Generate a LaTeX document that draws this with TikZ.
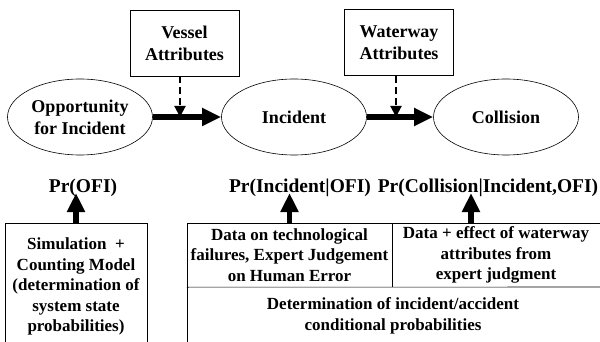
\documentclass[tikz,border=0pt]{standalone}
\usepackage{fontspec}
\setmainfont{Liberation Serif}
\usetikzlibrary{shapes.geometric,arrows.meta}
\begin{document}
\begin{tikzpicture}[x=1pt,y=-1pt,
  every node/.style={font=\bfseries},
  state/.style={draw,ellipse,line width=0.6pt,inner sep=0pt,
    minimum width=145pt,minimum height=76pt,align=center,
    font=\bfseries\fontsize{18}{22}\selectfont},
  attrbox/.style={draw,rectangle,line width=0.6pt,inner sep=0pt,
    minimum width=109pt,minimum height=66pt,align=center,
    font=\bfseries\fontsize{18}{22}\selectfont},
  prlabel/.style={inner sep=0pt,font=\bfseries\fontsize{19.5}{22}\selectfont},
  celltext/.style={inner sep=0pt,align=center,
    font=\bfseries\fontsize{17}{20.5}\selectfont},
  bigarrow/.style={line width=5.5pt,-{Triangle[length=19pt,width=17pt]}},
  dasharrow/.style={line width=2pt,dash pattern=on 7pt off 4pt,
    -{Triangle[length=11pt,width=11pt]}},
  frame/.style={line width=0.6pt}]
\useasboundingbox (0,0) rectangle (600,342);
\clip (0,0) rectangle (600,342);
\fill[white] (0,0) rectangle (600,342);

% event chain
\node[state] (ofi) at (80,117) {Opportunity\\for Incident};
\node[state] (inc) at (294,117) {Incident};
\node[state] (col) at (506,117) {Collision};
\draw[bigarrow] (ofi) -- (inc);
\draw[bigarrow] (inc) -- (col);

% attribute influences
\node[attrbox] (vessel) at (184.5,43) {Vessel\\Attributes};
\node[attrbox] (waterway) at (399,42.5) {Waterway\\Attributes};
\coordinate (vtip) at (180,117);
\coordinate (wtip) at (396,117);
\draw[dasharrow] (vessel.south -| vtip) -- (vtip);
\draw[dasharrow] (waterway.south -| wtip) -- (wtip);

% probability labels
\node[prlabel] (pofi) at (83,188) {Pr(OFI)};
\node[prlabel] (pinc) at (300,188) {Pr(Incident|OFI)};
\node[prlabel] (pcol) at (488,188) {Pr(Collision|Incident,OFI)};

% model boxes
\node[draw,frame,rectangle,minimum width=142pt,minimum height=130pt,
  inner sep=0pt] (simbox) at (76,288) {};
\node[celltext,anchor=north] (simtext) at (76,238)
  {Simulation\ \ +\\Counting Model\\(determination of\\system state\\probabilities)};

\node[rectangle,minimum width=205pt,minimum height=64pt,inner sep=0pt]
  (techcell) at (289.5,255) {};
\node[rectangle,minimum width=208pt,minimum height=64pt,inner sep=0pt]
  (datacell) at (496,255) {};
\draw[frame] (187,352) -- (187,223) -- (612,223);
\draw[frame] (techcell.north east) -- (techcell.south east);
\draw[frame] (techcell.south west) -- (612,287);

\node[celltext] (techtext) at (techcell)
  {Data on technological\\failures, Expert Judgement\\on Human Error};
\node[celltext] (datatext) at (datacell)
  {Data + effect of waterway\\attributes from\\expert judgment};
\node[celltext] (condtext) at (393,316)
  {Determination of incident/accident\\conditional probabilities};

\coordinate (cbase) at (471,223);
\draw[bigarrow] (simbox.north) -- (76,193);
\draw[bigarrow] (techcell.north) -- (289.5,193);
\draw[bigarrow] (cbase) -- (471,193);
\end{tikzpicture}
\end{document}
